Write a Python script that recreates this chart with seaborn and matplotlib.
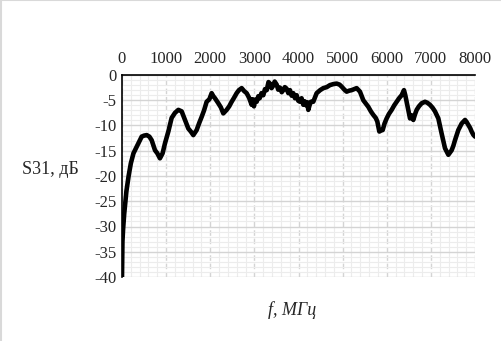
import matplotlib
matplotlib.use("Agg")
import matplotlib.pyplot as plt
import seaborn as sns
import pandas as pd
from matplotlib.ticker import MultipleLocator
from matplotlib.lines import Line2D

# 0 - 2938 MHz
freq_low = [0, 10, 25, 50, 100, 150, 200, 260, 333, 400,
            446, 500, 560, 620, 672, 748, 800, 860, 920, 975,
            1050, 1125, 1200, 1277, 1352, 1428, 1503, 1560, 1616, 1692,
            1750, 1805, 1860, 1918, 1980, 2032, 2070, 2107, 2183, 2240,
            2296, 2372, 2430, 2485, 2540, 2598, 2650, 2712, 2770, 2825,
            2880, 2938]
s31_low = [-40.0, -33.0, -30.5, -27.5, -23.0, -20.0, -17.5, -15.5, -14.2, -13.0,
           -12.2, -12.0, -11.9, -12.2, -12.9, -14.9, -15.5, -16.5, -15.5, -13.5,
           -11.2, -8.5, -7.5, -6.9, -7.2, -8.9, -10.6, -11.2, -11.9, -10.9,
           -9.5, -8.3, -7.0, -5.3, -4.8, -3.6, -4.2, -4.6, -5.6, -6.4,
           -7.6, -6.9, -6.2, -5.3, -4.5, -3.6, -3.0, -2.6, -3.2, -3.6,
           -4.5, -5.9]
# 2960 - 4280 MHz (noisy stretch)
freq_mid = [2960, 2990, 3020, 3052, 3090, 3120, 3160, 3202, 3240, 3280,
            3320, 3353, 3390, 3420, 3460, 3505, 3540, 3580, 3620, 3655,
            3690, 3730, 3770, 3807, 3845, 3882, 3920, 3958, 3995, 4033,
            4070, 4109, 4140, 4170, 4200, 4222, 4250, 4280]
s31_mid = [-4.8, -6.2, -4.9, -5.3, -4.2, -4.6, -3.6, -4.0, -2.8, -3.0,
           -1.4, -1.7, -2.6, -2.2, -1.3, -1.9, -2.9, -2.5, -3.4, -3.0,
           -2.4, -2.7, -3.6, -3.0, -4.1, -3.6, -4.6, -4.0, -5.1, -5.3,
           -4.6, -5.9, -5.2, -6.0, -5.4, -6.9, -6.0, -5.3]
# 4335 - 8000 MHz
freq_high = [4335, 4411, 4490, 4562, 4640, 4713, 4790, 4865, 4930, 4978,
             5040, 5091, 5150, 5204, 5260, 5318, 5393, 5469, 5530, 5582,
             5640, 5695, 5750, 5786, 5832, 5870, 5908, 5950, 5998, 6050,
             6112, 6170, 6225, 6280, 6338, 6390, 6420, 6451, 6490, 6527,
             6565, 6602, 6640, 6678, 6730, 6791, 6867, 6920, 6980, 7040,
             7093, 7169, 7244, 7320, 7360, 7396, 7430, 7471, 7510, 7547,
             7622, 7698, 7740, 7774, 7810, 7849, 7890, 7924, 7960, 8000]
s31_high = [-5.3, -3.6, -3.0, -2.6, -2.4, -2.0, -1.8, -1.7, -1.9, -2.3,
            -2.9, -3.3, -3.1, -3.0, -2.8, -2.6, -3.3, -5.0, -5.7, -6.3,
            -7.2, -7.9, -8.5, -9.2, -11.2, -11.0, -10.9, -9.6, -8.6, -7.7,
            -6.9, -6.0, -5.3, -4.6, -4.0, -3.0, -4.0, -5.3, -7.0, -8.6,
            -8.0, -8.9, -7.8, -6.9, -6.2, -5.6, -5.3, -5.5, -5.9, -6.5,
            -7.2, -8.6, -11.6, -14.5, -15.2, -15.8, -15.4, -14.9, -14.0, -12.9,
            -10.9, -9.6, -9.2, -8.9, -9.3, -9.9, -10.5, -11.2, -11.8, -12.2]

df = pd.DataFrame({"f": freq_low + freq_mid + freq_high,
                   "s31": s31_low + s31_mid + s31_high})

sns.set_style("white")
plt.rcParams["font.family"] = ["Liberation Serif", "DejaVu Serif"]
plt.rcParams["axes.unicode_minus"] = False

fig = plt.figure(figsize=(5.01, 3.41), dpi=100)
ax = fig.add_axes([122 / 501, 1 - 277 / 341, 353 / 501, 202 / 341])

sns.lineplot(data=df, x="f", y="s31", ax=ax, color="black", linewidth=3.3, sort=False)

ax.set_xlim(0, 8000)
ax.set_ylim(-40, 0)
ax.xaxis.set_major_locator(MultipleLocator(1000))
ax.xaxis.set_minor_locator(MultipleLocator(200))
ax.yaxis.set_major_locator(MultipleLocator(5))
ax.yaxis.set_minor_locator(MultipleLocator(1))
ax.xaxis.tick_top()
ax.tick_params(axis="both", which="both", length=0, labelsize=12, pad=4)
ax.tick_params(axis="x", pad=6)

ax.grid(which="minor", color="#ececec", linewidth=0.8)
ax.grid(which="major", axis="y", color="#d4d4d4", linewidth=1.0)
ax.grid(which="major", axis="x", color="#d4d4d4", linewidth=1.0, linestyle=(0, (4, 2)))
ax.set_axisbelow(True)

for s in ["right", "bottom"]:
    ax.spines[s].set_visible(False)
for s in ["top", "left"]:
    ax.spines[s].set_color("black")
    ax.spines[s].set_linewidth(1.2)

ax.set_xlabel("")
ax.set_ylabel("")
fig.text(50 / 501, 1 - 170 / 341, "S31, дБ", fontsize=13, ha="center", va="center")
fig.text(292 / 501, 1 - 310 / 341, "f, МГц", fontsize=13, style="italic", ha="center", va="center")

fig.add_artist(Line2D([0.001, 0.001], [0, 1], transform=fig.transFigure, color="#d9d9d9", linewidth=1.5))
fig.add_artist(Line2D([0, 1], [0.999, 0.999], transform=fig.transFigure, color="#d9d9d9", linewidth=1.5))

fig.savefig("out.png", dpi=100)
